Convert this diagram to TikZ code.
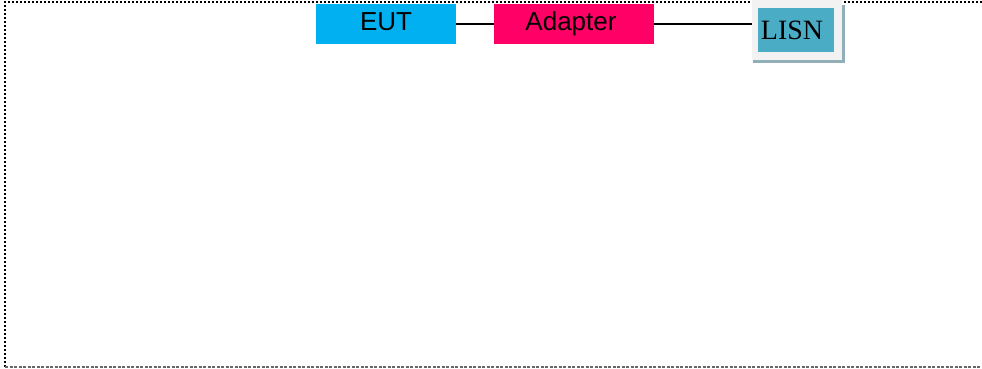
\documentclass[tikz,border=0pt]{standalone}
\usepackage{fontspec}
\setmainfont{Liberation Serif}
\newfontfamily\arialfont{Liberation Sans}
\definecolor{eutblue}{HTML}{00B0F0}
\definecolor{adaptpink}{HTML}{FF0066}
\definecolor{lisnteal}{HTML}{4BACC6}
\definecolor{lisnlight}{HTML}{F2F2F2}
\definecolor{lisnshadow}{HTML}{92AEB8}
\begin{document}
\begin{tikzpicture}[x=1pt,y=-1pt,
  blockbox/.style={rectangle, inner sep=0pt, outer sep=0pt},
  blocktext/.style={inner sep=0pt, text=black, font=\arialfont\fontsize{26}{30}\selectfont},
  link/.style={line width=1.5pt, black}]
\useasboundingbox (0,0) rectangle (982,368);
% frame
\draw[line width=2.2pt, black, dash pattern=on 2pt off 2pt] (5,367) -- (5,2) -- (990,2);
\draw[line width=1.2pt, black!60, dash pattern=on 3pt off 1.5pt] (5,367) -- (990,367);
% blocks
\node[blockbox, fill=eutblue, minimum width=140pt, minimum height=40pt] (eut) at (385.5,24) {};
\node[blocktext, anchor=base] (euttext) at (386,30.5) {EUT};
\node[blockbox, fill=adaptpink, minimum width=160pt, minimum height=40pt] (adapter) at (574,24) {};
\node[blocktext, anchor=base] (adaptertext) at (571,30.5) {Adapter};
% LISN
\fill[lisnshadow] (753,60) rectangle (845,63);
\fill[lisnshadow] (842,5) rectangle (845,63);
\node[rectangle, inner sep=0pt, fill=lisnlight, minimum width=90pt, minimum height=60pt] (lisn) at (797,30) {};
\node[rectangle, inner sep=0pt, fill=lisnteal, minimum width=76pt, minimum height=44pt] (lisnin) at (796,30) {};
\node[inner sep=0pt, anchor=base] (lisntext) at (792,39) {\fontsize{28}{30}\selectfont LISN};
% connectors
\draw[link] (eut.east) -- (adapter.west);
\draw[link] (adapter.east) -- (adapter.east -| lisn.west);
\end{tikzpicture}
\end{document}
